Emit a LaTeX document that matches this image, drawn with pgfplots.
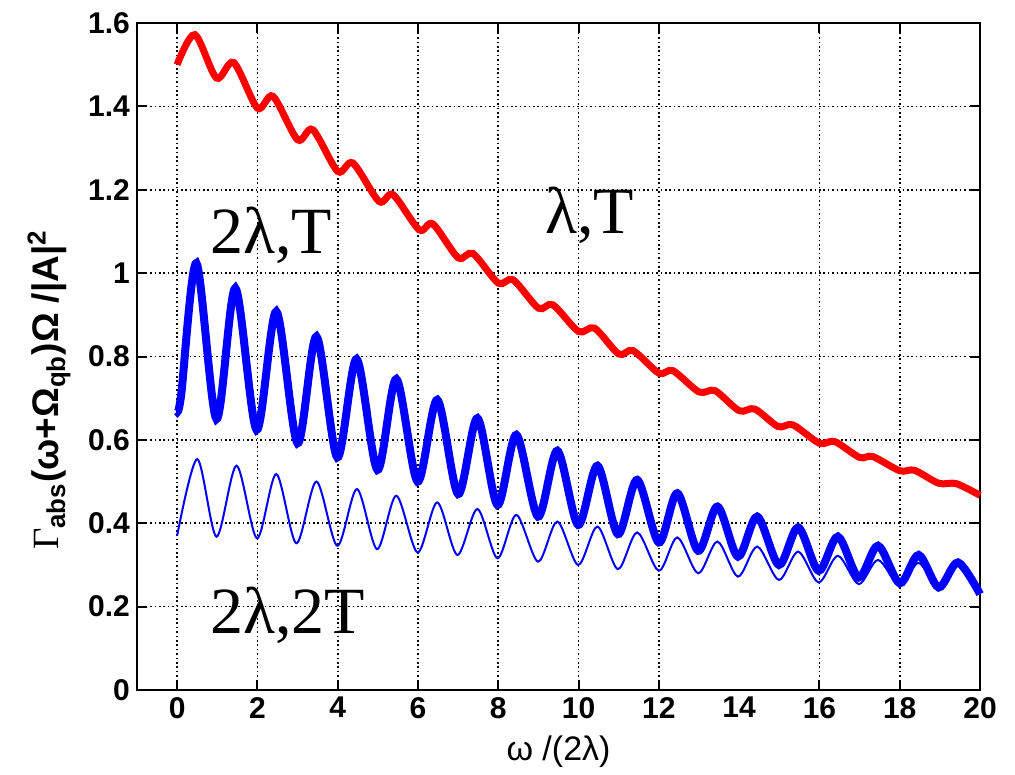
\documentclass[border=0pt]{standalone}
\usepackage{fontspec}
\setmainfont{Liberation Sans}
\newfontfamily\serif{Liberation Serif}
\usepackage{pgfplots}
\pgfplotsset{compat=1.18}
\definecolor{mred}{RGB}{255,0,0}
\definecolor{mblue}{RGB}{0,0,255}

\begin{document}
\begin{tikzpicture}
\begin{axis}[
  scale only axis,
  width=421.5pt, height=333.5pt,
  xmin=-1, xmax=20, ymin=0, ymax=1.6,
  xtick={0,2,4,6,8,10,12,16,18,20},
  extra x ticks={14},
  extra x tick style={grid=none, major tick length=0pt},
  ytick={0,0.2,...,1.6},
  tick align=inside,
  major tick length=5pt,
  grid=major,
  grid style={black, line width=0.8pt, dash pattern=on 0.8pt off 1.4pt},
  axis line style={line width=1pt},
  every tick/.style={black, line width=1pt},
  tick label style={font=\fontsize{15}{18}\selectfont\bfseries},
  /pgf/number format/assume math mode=true,
  xlabel={\fontsize{17}{20}\selectfont ω /(2λ)},
  ylabel={\fontsize{18.5}{22}\selectfont\bfseries{\serif\mdseries Γ}\textsubscript{abs}(ω+Ω\textsubscript{qb})Ω /|A|\textsuperscript{2}},
  every axis x label/.style={at={(axis description cs:0.5,0)}, anchor=center, yshift=-31pt},
  every axis y label/.style={at={(axis description cs:0,0.45)}, anchor=center, xshift=-44pt, rotate=90},
  clip=false
]
% lambda, T
\addplot[mred, line width=3.5pt, smooth] coordinates {
 (0,1.500) (0.44,1.572) (0.98,1.468) (1.41,1.505) (2.0,1.396) (2.39,1.424)
 (3.0,1.320) (3.38,1.344) (4.0,1.244) (4.38,1.264) (5.03,1.172) (5.38,1.188)
 (6.03,1.104) (6.37,1.118) (7.0,1.037) (7.37,1.047) (8.0,0.976) (8.37,0.984)
 (9.0,0.916) (9.36,0.924) (10.0,0.860) (10.4,0.868) (11.0,0.806) (11.36,0.814)
 (12.0,0.760) (12.35,0.766) (13.0,0.715) (13.4,0.718) (14.0,0.670) (14.39,0.674)
 (14.97,0.632) (15.34,0.636) (16.0,0.592) (16.38,0.596) (17.0,0.558) (17.33,0.560)
 (18.0,0.526) (18.37,0.527) (18.97,0.496) (19.41,0.495) (20.0,0.467)
};
% 2 lambda, T
\addplot[mblue, line width=4pt, smooth] coordinates {
 (0,0.668) (0.1,0.708) (0.48,1.024) (0.98,0.650) (1.45,0.964) (1.98,0.624)
 (2.47,0.908) (3.0,0.592) (3.47,0.848) (3.99,0.558) (4.47,0.794) (4.99,0.528)
 (5.46,0.746) (5.99,0.500) (6.48,0.696) (7.0,0.470) (7.48,0.652) (7.98,0.444)
 (8.45,0.612) (8.99,0.416) (9.47,0.574) (9.99,0.396) (10.47,0.538) (10.98,0.374)
 (11.46,0.504) (12.0,0.354) (12.46,0.472) (12.98,0.334) (13.46,0.440) (13.97,0.320)
 (14.45,0.416) (14.99,0.300) (15.47,0.390) (15.98,0.286) (16.46,0.368) (16.98,0.270)
 (17.46,0.346) (18.0,0.256) (18.47,0.324) (18.97,0.246) (19.45,0.306) (20.0,0.230)
};
% 2 lambda, 2T
\addplot[mblue, line width=1pt, smooth] coordinates {
 (0,0.370) (0.5,0.554) (0.98,0.368) (1.48,0.538) (1.99,0.364) (2.47,0.518)
 (2.97,0.352) (3.47,0.500) (3.99,0.346) (4.48,0.482) (4.98,0.338) (5.46,0.466)
 (5.99,0.330) (6.48,0.450) (6.98,0.324) (7.48,0.434) (7.98,0.316) (8.45,0.420)
 (8.99,0.308) (9.47,0.404) (9.99,0.300) (10.47,0.392) (10.98,0.290) (11.46,0.378)
 (12.0,0.286) (12.46,0.366) (12.98,0.280) (13.46,0.356) (13.97,0.272) (14.45,0.344)
 (14.99,0.264) (15.47,0.332) (15.98,0.258) (16.46,0.322) (16.98,0.254) (17.46,0.312)
 (18.0,0.250) (18.47,0.305) (18.97,0.244) (19.45,0.298) (20.0,0.230)
};
\node[anchor=base west, inner sep=0pt] at (axis cs:0.81,1.046) {\serif\fontsize{33}{38}\selectfont 2λ,T};
\node[anchor=base west, inner sep=0pt] at (axis cs:9.16,1.096) {\serif\fontsize{33}{38}\selectfont λ,T};
\node[anchor=base west, inner sep=0pt] at (axis cs:0.81,0.136) {\serif\fontsize{33}{38}\selectfont 2λ,2T};
\coordinate (sw) at (rel axis cs:0,0);
\end{axis}
\path (sw) ++(-68.5pt,-39.5pt) rectangle ++(507.5pt,384.5pt);
\end{tikzpicture}
\end{document}
